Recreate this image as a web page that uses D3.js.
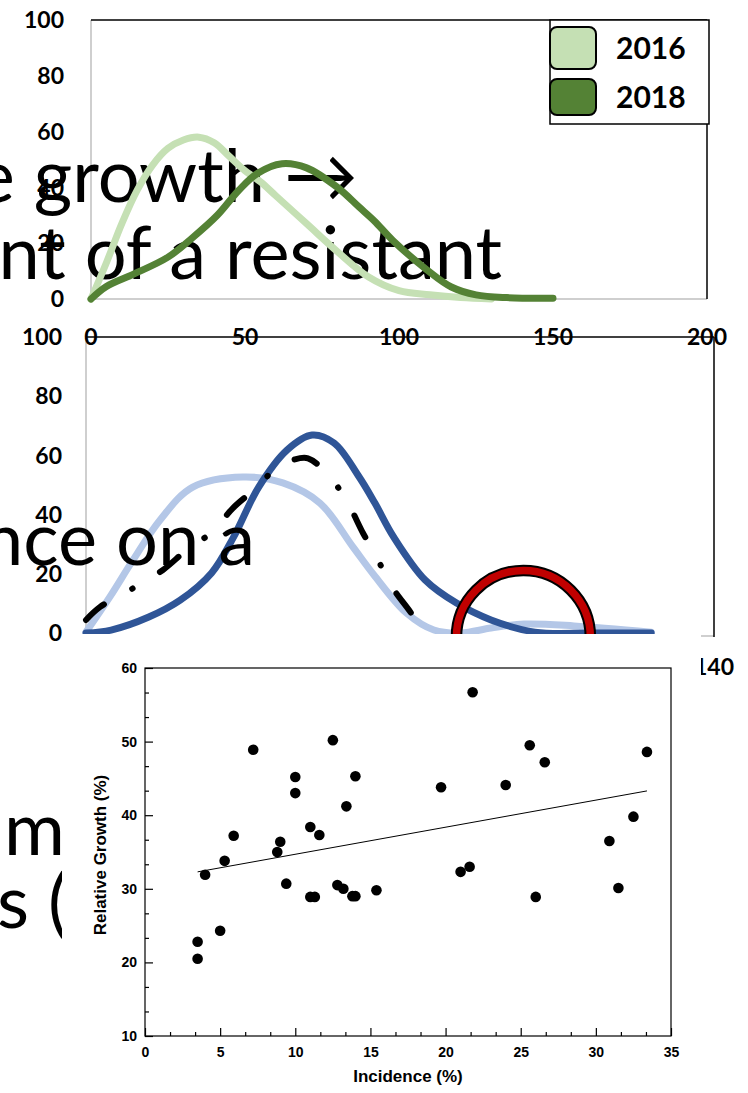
<!DOCTYPE html>
<html>
<head>
<meta charset="utf-8">
<script src="https://cdn.jsdelivr.net/npm/d3@7"></script>
<style>
  html, body { margin: 0; padding: 0; background: #fff; }
  svg { display: block; }
</style>
</head>
<body>
<svg id="chart" width="748" height="1093"></svg>
<script>
// --- top panel: 2016 vs 2018 distributions
const x2016 = [0, 5, 10, 15, 20, 25, 30, 35, 40, 45, 50, 55, 60, 70, 80, 90, 100, 110, 120, 130];
const y2016 = [0, 13, 27, 39, 48, 54, 57, 58, 56, 51, 46, 42, 37, 27, 17, 8, 3, 1.5, 0.5, 0];
const x2018 = [0, 5, 14, 25, 33, 41, 48, 54, 62, 70, 80, 87, 92, 98, 109, 117, 125, 135, 150];
const y2018 = [0, 4.5, 9, 15, 22, 30, 39, 45, 48.5, 47, 40, 33, 28, 21, 10.5, 4.3, 1.5, 0.5, 0.3];
const legendYears = ["2016", "2018"];
const topTicksY = [0, 20, 40, 60, 80, 100];
const topTicksX = [0, 50, 100, 150, 200];

// --- middle panel: three distributions
const xDark = [0, 8, 20, 30, 40, 47, 55, 64, 72, 79, 87, 92, 98, 108, 118, 129, 143, 161, 180];
const yDark = [0, 1, 5.4, 11.1, 20.3, 32.4, 49.3, 61.8, 66.9, 64.2, 52.7, 43.9, 32.4, 17.9, 10.1, 4.4, 0.3, 0, 0];
const xLight = [0, 7.6, 15, 23.6, 34, 50, 62.7, 74.5, 85, 91.7, 102, 110.8, 119.4, 129, 139.5, 155.4, 180];
const yLight = [0.3, 12.2, 24.7, 38.2, 49.3, 52.7, 50.7, 43.9, 29.1, 19.6, 6.8, 1, 0, 1.7, 3, 2.4, 0.3];
const xDash = [0, 4.5, 15.6, 24.5, 32, 40, 46.8, 54.5, 60.8, 66, 70.7, 77.7, 83.4, 88.2, 91.7, 97.5, 103.5, 107.6];
const yDash = [4.4, 8.8, 15.5, 21.3, 28, 34, 42.2, 49.3, 56, 58.5, 59, 52.7, 43.9, 33.8, 27.4, 15.5, 6.8, 0];
const ringCenter = [139.3, -1.5];
const midTicksY = [0, 20, 40, 60, 80, 100];

// --- bottom panel: incidence vs relative growth
const incidence = [3.5, 3.5, 4.0, 5.0, 5.3, 5.9, 7.2, 8.8, 9.0, 9.4, 10.0, 10.0, 11.0, 11.0, 11.3, 11.6, 12.5, 12.8,
  13.2, 13.4, 13.8, 14.0, 14.0, 15.4, 19.7, 21.0, 21.6, 21.8, 24.0, 25.6, 26.0, 26.6, 30.9, 31.5, 32.5, 33.4];
const relGrowth = [22.8, 20.5, 31.9, 24.3, 33.8, 37.2, 48.9, 35.0, 36.4, 30.7, 45.2, 43.0, 38.4, 28.9, 28.9, 37.3, 50.2, 30.5,
  30.0, 41.2, 29.0, 29.0, 45.3, 29.8, 43.8, 32.3, 33.0, 56.7, 44.1, 49.5, 28.9, 47.2, 36.5, 30.1, 39.8, 48.6];
const trendX = [3.5, 33.4];
const trendY = [32.3, 43.3];

const sans = "Lato, 'Open Sans', sans-serif";
const arial = "'Liberation Sans', Arial, sans-serif";

const svg = d3.select("#chart");

// scales
const x1 = d3.scaleLinear().domain([0, 200]).range([91, 707]);
const y1 = d3.scaleLinear().domain([0, 100]).range([299, 20]);
const x2 = d3.scaleLinear().domain([0, 200]).range([86, 714]);
const y2 = d3.scaleLinear().domain([0, 100]).range([633, 337]);
const sx = d3.scaleLinear().domain([0, 35]).range([145, 671]);
const sy = d3.scaleLinear().domain([10, 60]).range([1036, 668]);

function curve(xs, ys, xs_, ys_) {
  return d3.line().x(d => xs_(d[0])).y(d => ys_(d[1])).curve(d3.curveCatmullRom.alpha(0.5))(xs.map((v, i) => [v, ys[i]]));
}

// ---------- top panel ----------
const topPanel = svg.append("g");
topPanel.append("line").attr("x1", x1(0)).attr("x2", x1(0)).attr("y1", y1(100)).attr("y2", y1(0))
  .attr("stroke", "#bfbfbf").attr("stroke-width", 1.5);
topPanel.append("line").attr("x1", x1(0)).attr("x2", x1(200)).attr("y1", y1(0)).attr("y2", y1(0))
  .attr("stroke", "#bfbfbf").attr("stroke-width", 1.5);
topPanel.append("line").attr("x1", x1(0)).attr("x2", x1(200)).attr("y1", y1(100)).attr("y2", y1(100))
  .attr("stroke", "#000").attr("stroke-width", 1.5);
topPanel.append("line").attr("x1", x1(200)).attr("x2", x1(200)).attr("y1", y1(100)).attr("y2", y1(0))
  .attr("stroke", "#000").attr("stroke-width", 1.5);

topPanel.selectAll("text.ytick").data(topTicksY).join("text")
  .attr("class", "ytick")
  .attr("x", 64).attr("y", d => y1(d)).attr("dy", "0.36em")
  .attr("text-anchor", "end")
  .style("font-family", sans).style("font-weight", 700).style("font-size", "23px")
  .text(d => d);

// big slide text (behind the curves)
const bigText = svg.append("g")
  .style("font-family", sans).style("font-size", "74px").attr("fill", "#000");
bigText.append("text").attr("x", 358).attr("y", 202).attr("text-anchor", "end").text("e growth \u2192");
bigText.append("text").attr("x", 502).attr("y", 279).attr("text-anchor", "end").text("nt of a resistant");

const topCurves = svg.append("g");
topCurves.append("path").attr("d", curve(x2016, y2016, x1, y1)).attr("fill", "none")
  .attr("stroke", "#c5e0b4").attr("stroke-width", 7).attr("stroke-linecap", "round");
topCurves.append("path").attr("d", curve(x2018, y2018, x1, y1)).attr("fill", "none")
  .attr("stroke", "#548235").attr("stroke-width", 7).attr("stroke-linecap", "round");

// legend
const legend = svg.append("g");
legend.append("rect").attr("x", 550).attr("y", 20).attr("width", 159).attr("height", 104)
  .attr("fill", "#fff").attr("stroke", "#000").attr("stroke-width", 1.5);
const legColors = ["#c5e0b4", "#548235"];
const legY = [27, 79];
const legH = [42, 36];
legend.selectAll("rect.sw").data(legendYears).join("rect")
  .attr("class", "sw")
  .attr("x", 550).attr("y", (d, i) => legY[i]).attr("width", 46).attr("height", (d, i) => legH[i])
  .attr("rx", 7).attr("fill", (d, i) => legColors[i]).attr("stroke", "#000").attr("stroke-width", 2);
legend.selectAll("text").data(legendYears).join("text")
  .attr("x", 616).attr("y", (d, i) => legY[i] + legH[i] / 2).attr("dy", "0.36em")
  .style("font-family", sans).style("font-weight", 700).style("font-size", "30px")
  .text(d => d);

// ---------- middle panel ----------
const mid = svg.append("g");
mid.append("line").attr("x1", x2(0)).attr("x2", x2(0)).attr("y1", y2(100)).attr("y2", y2(0))
  .attr("stroke", "#bfbfbf").attr("stroke-width", 1.5);
mid.append("line").attr("x1", x2(0)).attr("x2", x2(200)).attr("y1", y2(0) + 3).attr("y2", y2(0) + 3)
  .attr("stroke", "#bfbfbf").attr("stroke-width", 1.5);
mid.append("line").attr("x1", x2(200)).attr("x2", x2(200)).attr("y1", y2(100)).attr("y2", y2(0) + 4)
  .attr("stroke", "#000").attr("stroke-width", 1.5);
mid.append("line").attr("x1", x2(0)).attr("x2", x2(200)).attr("y1", y2(100)).attr("y2", y2(100))
  .attr("stroke", "#000").attr("stroke-width", 1.5);

mid.selectAll("text.ytick").data(midTicksY).join("text")
  .attr("class", "ytick")
  .attr("x", 62).attr("y", d => y2(d)).attr("dy", "0.36em")
  .attr("text-anchor", "end")
  .style("font-family", sans).style("font-weight", 700).style("font-size", "23px")
  .text(d => d);

// x tick labels of the top panel, sitting on the middle panel's top edge
svg.append("g").selectAll("text").data(topTicksX).join("text")
  .attr("x", d => x1(d)).attr("y", y1(0) + 38).attr("dy", "0.36em")
  .attr("text-anchor", "middle")
  .style("font-family", sans).style("font-weight", 700).style("font-size", "23px")
  .text(d => d);

mid.append("path").attr("d", curve(xLight, yLight, x2, y2)).attr("fill", "none")
  .attr("stroke", "#b4c7e7").attr("stroke-width", 7).attr("stroke-linecap", "round");
mid.append("path").attr("d", curve(xDark, yDark, x2, y2)).attr("fill", "none")
  .attr("stroke", "#2f5597").attr("stroke-width", 7).attr("stroke-linecap", "round");
mid.append("path").attr("d", curve(xDash, yDash, x2, y2)).attr("fill", "none")
  .attr("stroke", "#000").attr("stroke-width", 6).attr("stroke-linecap", "round")
  .attr("stroke-dasharray", "24,32,0.5,32");

svg.append("text").attr("x", 255).attr("y", 565).attr("text-anchor", "end")
  .style("font-family", sans).style("font-size", "74px").text("nce on a");

// red ring annotation
svg.append("circle").attr("cx", x2(ringCenter[0])).attr("cy", y2(ringCenter[1])).attr("r", 67)
  .attr("fill", "none").attr("stroke", "#000").attr("stroke-width", 11.5);
svg.append("circle").attr("cx", x2(ringCenter[0])).attr("cy", y2(ringCenter[1])).attr("r", 67)
  .attr("fill", "none").attr("stroke", "#c00000").attr("stroke-width", 7.5);

svg.append("text").attr("x", x2(200)).attr("y", 667).attr("dy", "0.36em").attr("text-anchor", "middle")
  .style("font-family", sans).style("font-weight", 700).style("font-size", "23px").text("140");

const leftText = svg.append("g").style("font-family", sans).style("font-size", "74px");
leftText.append("text").attr("x", 4).attr("y", 855).text("m");
leftText.append("text").attr("x", -3).attr("y", 928).text("s (");

// ---------- bottom panel (scatter image) ----------
svg.append("rect").attr("x", 62).attr("y", 634).attr("width", 639).attr("height", 459).attr("fill", "#fff");

const sc = svg.append("g");
sc.append("rect").attr("x", sx(0)).attr("y", sy(60)).attr("width", sx(35) - sx(0)).attr("height", sy(10) - sy(60))
  .attr("fill", "none").attr("stroke", "#000").attr("stroke-width", 1.2);

sc.append("g").attr("transform", `translate(0,${sy(10)})`)
  .call(d3.axisBottom(sx).tickValues(d3.range(0, 36, 5)).tickSize(-8).tickPadding(11));
sc.append("g").attr("transform", `translate(0,${sy(10)})`)
  .call(d3.axisBottom(sx).tickValues(d3.range(0, 35.01, 5 / 3).filter((d, i) => i % 3 !== 0)).tickSize(-4).tickFormat(""));
sc.append("g").attr("transform", `translate(${sx(0)},0)`)
  .call(d3.axisLeft(sy).tickValues(d3.range(10, 61, 10)).tickSize(-8).tickPadding(8));
sc.append("g").attr("transform", `translate(${sx(0)},0)`)
  .call(d3.axisLeft(sy).tickValues(d3.range(10, 60.01, 10 / 3).filter((d, i) => i % 3 !== 0)).tickSize(-4).tickFormat(""));

sc.selectAll(".domain").remove();
sc.selectAll(".tick line").attr("stroke", "#000").attr("stroke-width", 1.2);
sc.selectAll(".tick text").attr("fill", "#000")
  .style("font-family", arial).style("font-weight", 700).style("font-size", "14px");

sc.append("line").attr("x1", sx(trendX[0])).attr("y1", sy(trendY[0])).attr("x2", sx(trendX[1])).attr("y2", sy(trendY[1]))
  .attr("stroke", "#000").attr("stroke-width", 1);

sc.selectAll("circle").data(incidence).join("circle")
  .attr("cx", d => sx(d)).attr("cy", (d, i) => sy(relGrowth[i])).attr("r", 5.3).attr("fill", "#000");

sc.append("text").attr("x", 408).attr("y", 1076).attr("dy", "0.36em").attr("text-anchor", "middle")
  .style("font-family", arial).style("font-weight", 700).style("font-size", "17px").text("Incidence (%)");
sc.append("text").attr("transform", "translate(100,855) rotate(-90)").attr("dy", "0.36em").attr("text-anchor", "middle")
  .style("font-family", arial).style("font-weight", 700).style("font-size", "17px").text("Relative Growth (%)");
</script>
</body>
</html>
